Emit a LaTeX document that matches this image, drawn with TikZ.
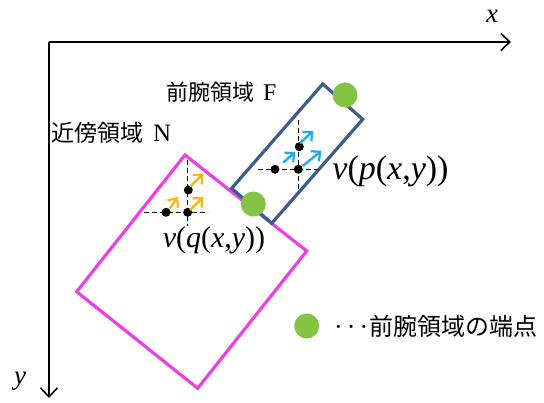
\documentclass[tikz,border=0pt]{standalone}
\usepackage{fontspec}
\setmainfont{Liberation Serif}
\newfontfamily\jp{Noto Sans CJK JP}
\usetikzlibrary{arrows.meta}
\definecolor{gr}{RGB}{132,196,66}
\definecolor{pk}{RGB}{236,64,226}
\definecolor{bl}{RGB}{62,92,140}
\definecolor{cy}{RGB}{30,172,232}
\definecolor{yl}{RGB}{250,182,10}
\tikzset{
  axis/.style={line width=1.8pt,-{Straight Barb[length=9pt,width=17pt,line width=1.6pt]}},
  gdot/.style={circle,fill=gr,draw=none,minimum size=25pt,inner sep=0pt},
  bdot/.style={circle,fill=black,draw=none,minimum size=9pt,inner sep=0pt},
  cross/.style={black,dashed,line width=1.4pt,dash pattern=on 5pt off 3pt},
  varr/.style={line width=2.4pt,-{Straight Barb[length=7pt,width=13pt,line width=2.2pt]}},
  lab/.style={inner sep=0pt,font=\fontsize{30}{33}\selectfont},
  jlab/.style={inner sep=0pt,font=\fontsize{22}{26}\selectfont\jp},
}
\begin{document}
\begin{tikzpicture}[x=1pt,y=-1pt]
\useasboundingbox (0,0) rectangle (544,403);
% axes
\coordinate (o) at (49,42);
\coordinate (xe) at (511,42);
\coordinate (ye) at (49,398);
\draw[axis] (o) -- (xe);
\draw[axis] (o) -- (ye);
\node[lab,font=\fontsize{27}{30}\selectfont\itshape] (xl) at (492,16) {x};
\node[lab,font=\fontsize{27}{30}\selectfont\itshape] (yl) at (20,381) {y};
% neighbourhood N (pink)
\draw[pk,line width=3.2pt,line join=miter] (185,155) -- (306.7,251) -- (197.7,388.3) -- (76.7,291.7) -- cycle;
% forearm F (blue)
\draw[bl,line width=3.2pt,line join=miter] (322.7,84) -- (362.7,119.3) -- (271.7,223.3) -- (231.7,188.3) -- cycle;
% labels
\node[jlab,anchor=west] (lf) at (166,92) {前腕領域\hspace{9pt}{\fontsize{24}{26}\selectfont\rmfamily F}};
\node[jlab,anchor=west,font=\fontsize{23}{26}\selectfont\jp] (ln) at (51,133) {近傍領域\hspace{10pt}{\fontsize{25}{26}\selectfont\rmfamily N}};
% blue cross
\draw[cross] (298.3,120) -- (298.3,192);
\draw[cross] (258,169.3) -- (318,169.3);
\node[bdot] (p1) at (299.3,146.7) {};
\node[bdot] (p2) at (275,169.3) {};
\node[bdot] (p0) at (298.3,169.3) {};
\draw[varr,cy] (300,143.3) -- (313.2,130.8);
\draw[varr,cy] (283.3,162.7) -- (295.2,151.8);
\draw[varr,cy] (302.7,166) -- (321.5,150.8);
% yellow cross
\draw[cross] (187.7,160) -- (187.7,226);
\draw[cross] (144,212.3) -- (208,212.3);
\node[bdot] (q1) at (188.3,190) {};
\node[bdot] (q2) at (166,212.3) {};
\node[bdot] (q0) at (187.7,212.3) {};
\draw[varr,yl] (190,186.7) -- (203.3,173.6);
\draw[varr,yl] (170,208.3) -- (177.9,197);
\draw[varr,yl] (190,210) -- (203.3,197);
% end points
\node[gdot] (e1) at (345,95) {};
\node[gdot] (e2) at (253.3,204) {};
% value labels
\node[lab,font=\fontsize{34}{36}\selectfont] (vp) at (390.5,171) {\textit{v}(\textit{p}(\textit{x},\textit{y}))};
\node[lab] (vq) at (214,240) {\textit{v}(\textit{q}(\textit{x},\textit{y}))};
% legend
\node[gdot] (lg) at (306.7,326) {};
\node[inner sep=0pt,anchor=west,font=\fontsize{26}{26}\selectfont\rmfamily] (ld) at (334,330) {·\hspace{4pt}·\hspace{4pt}·};
\node[jlab,anchor=west,font=\fontsize{24}{26}\selectfont\jp] (lt) at (369,326) {前腕領域の端点};
\end{tikzpicture}
\end{document}
